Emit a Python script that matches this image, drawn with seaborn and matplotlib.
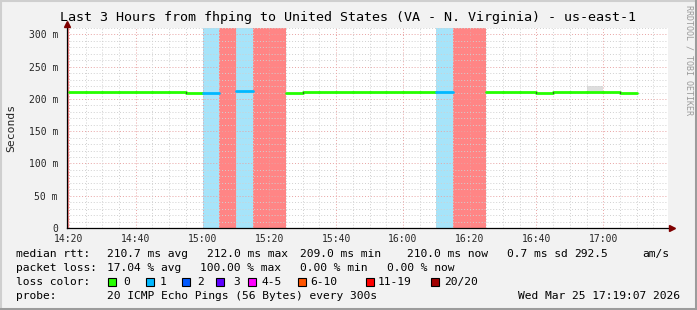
import numpy as np
import pandas as pd
import matplotlib
matplotlib.use("Agg")
import matplotlib.pyplot as plt
from matplotlib.lines import Line2D
from matplotlib.patches import Rectangle
import seaborn as sns

# ---------------- data ----------------
bin_starts = ["14:15", "14:20", "14:25", "14:30", "14:35", "14:40", "14:45", "14:50",
              "14:55", "15:00", "15:05", "15:10", "15:15", "15:20", "15:25", "15:30",
              "15:35", "15:40", "15:45", "15:50", "15:55", "16:00", "16:05", "16:10",
              "16:15", "16:20", "16:25", "16:30", "16:35", "16:40", "16:45", "16:50",
              "16:55", "17:00", "17:05"]
median_ms = [np.nan, 211, 211, 211, 211, 211, 211, 211,
             209, 209, np.nan, 212, np.nan, np.nan, 209, 211,
             211, 211, 211, 211, 211, 211, 211, 211,
             np.nan, np.nan, 211, 211, 211, 209, 211, 211,
             211, 211, 210]
smoke_max_ms = [np.nan, 211, 211, 211, 211, 211, 211, 211,
                209, 209, np.nan, 212, np.nan, np.nan, 209, 211,
                211, 211, 211, 211, 211, 211, 211, 211,
                np.nan, np.nan, 211, 211, 211, 209, 211, 211,
                220, 211, 210]
lost_pings = [20, 0, 0, 0, 0, 0, 0, 0,
              0, 1, 20, 1, 20, 20, 0, 0,
              0, 0, 0, 0, 0, 0, 0, 1,
              20, 20, 0, 0, 0, 0, 0, 0,
              0, 0, 0]

y_ticks = [0, 50, 100, 150, 200, 250, 300]
y_tick_labels = ["0", "50 m", "100 m", "150 m", "200 m", "250 m", "300 m"]
x_tick_labels = ["14:20", "14:40", "15:00", "15:20", "15:40", "16:00", "16:20", "16:40", "17:00"]

loss_names = ["0", "1", "2", "3", "4-5", "6-10", "11-19", "20/20"]
loss_colors = ["#26ff00", "#00b8ff", "#0059ff", "#5e00ff", "#ff00ff", "#ff5500", "#ff0000", "#a10000"]

title = "Last 3 Hours from fhping to United States (VA - N. Virginia) - us-east-1"
stats_rtt = ["median rtt:", "210.7 ms avg", "212.0 ms max", "209.0 ms min",
             "210.0 ms now", "0.7 ms sd", "292.5", "am/s"]
stats_loss = ["packet loss:", "17.04 % avg", "100.00 % max", "0.00 % min", "0.00 % now"]
probe_text = ["probe:", "20 ICMP Echo Pings (56 Bytes) every 300s", "Wed Mar 25 17:19:07 2026"]

# ---------------- helpers ----------------
def to_min(s):
    h, m = s.split(":")
    return int(h) * 60 + int(m) - 14 * 60

BIN = 5
starts = np.array([to_min(s) for s in bin_starts], dtype=float)

def loss_class(n):
    if n == 0: return 0
    if n == 1: return 1
    if n == 2: return 2
    if n == 3: return 3
    if n <= 5: return 4
    if n <= 10: return 5
    if n <= 19: return 6
    return 7

# ---------------- figure ----------------
W, H = 697, 310
sns.set_style("white")
plt.rcParams["font.family"] = ["DejaVu Sans Mono", "DejaVu Sans"]
fig = plt.figure(figsize=(W / 100, H / 100), dpi=100, facecolor="#f2f2f2")

L, R, T, B = 67, 668, 28, 228
ax = fig.add_axes([L / W, 1 - B / H, (R - L) / W, (B - T) / H])
ax.set_facecolor("white")
XMIN, XMAX = 19.4, 199.4
YMAX = 310
ax.set_xlim(XMIN, XMAX)
ax.set_ylim(0, YMAX)

# loss backgrounds
bg_colors = {1: "#a6e4fa", 7: "#ff8585"}
for s, n in zip(starts, lost_pings):
    c = loss_class(n)
    if c == 0:
        continue
    ax.axvspan(s, s + BIN, color=bg_colors.get(c, "#ff8585"), lw=0, zorder=0)

# smoke (spread of pings)
for s, m, sm in zip(starts, median_ms, smoke_max_ms):
    if not np.isnan(m) and sm > m:
        ax.bar(s, sm - m, bottom=m, width=BIN, align="edge", color="#dedede", lw=0, zorder=1)

# grid
for v in range(10, YMAX + 1, 10):
    if v % 50 == 0:
        ax.axhline(v, color="#e8a3a3", lw=0.7, ls=(0, (1, 2)), zorder=1.5)
    else:
        ax.axhline(v, color="#d0d0d0", lw=0.7, ls=(0, (1, 2)), zorder=1.5)
for t in np.arange(20, 200, 5):
    if t % 20 == 0:
        ax.axvline(t, color="#e8a3a3", lw=0.7, ls=(0, (1, 2)), zorder=1.5)
    else:
        ax.axvline(t, color="#d0d0d0", lw=0.7, ls=(0, (1, 2)), zorder=1.5)

# median line through seaborn
rows = []
for i, (s, m, n) in enumerate(zip(starts, median_ms, lost_pings)):
    if np.isnan(m):
        continue
    cls = loss_names[loss_class(n)]
    rows.append({"t": s, "ms": m, "bin": i, "loss": cls})
    rows.append({"t": s + BIN, "ms": m, "bin": i, "loss": cls})
df = pd.DataFrame(rows)
pal = dict(zip(loss_names, loss_colors))
sns.lineplot(data=df, x="t", y="ms", hue="loss", units="bin", estimator=None,
             palette=pal, lw=2.0, legend=False, sort=False, ax=ax, zorder=3)

# step joins
for i in range(1, len(starts)):
    a, b = median_ms[i - 1], median_ms[i]
    if not np.isnan(a) and not np.isnan(b) and a != b:
        ax.plot([starts[i], starts[i]], [a, b], color="#404040", lw=0.8, zorder=3.5)

# axes styling
for sp in ["top", "right"]:
    ax.spines[sp].set_visible(False)
ax.spines["left"].set_color("black")
ax.spines["bottom"].set_color("black")
ax.spines["left"].set_linewidth(0.9)
ax.spines["bottom"].set_linewidth(0.9)
ax.spines["left"].set_bounds(0, YMAX + 6)
ax.spines["bottom"].set_bounds(XMIN, XMAX + 1.2)
ax.spines["left"].set_zorder(4)
ax.spines["bottom"].set_zorder(4)
# arrows
ax.plot([XMAX + 1.3], [0], marker=">", color="#7f0000", ms=5, clip_on=False, zorder=5)
ax.plot([XMIN], [YMAX + 6], marker="^", color="#7f0000", ms=5, clip_on=False, zorder=5)

xt = [to_min(s) for s in x_tick_labels]
ax.set_xticks(xt)
ax.set_xticklabels(x_tick_labels)
ax.set_xticks(np.arange(20, 200, 5), minor=True)
ax.set_yticks(y_ticks)
ax.set_yticklabels(y_tick_labels)
ax.set_yticks(np.arange(10, YMAX, 10), minor=True)
ax.tick_params(axis="both", which="major", length=2.5, width=0.8, color="black",
               labelsize=7, direction="out")
ax.tick_params(axis="x", which="major", pad=1.5)
ax.tick_params(axis="y", which="major", pad=4)
ax.tick_params(axis="both", which="minor", length=1.2, width=0.6, color="#555555", direction="out")
ax.set_xlabel("")
ax.set_ylabel("")

# title and labels
fig.text(0.5, 1 - 18 / H, title, ha="center", va="center", fontsize=9.6, color="black")
fig.text(11 / W, 1 - 128 / H, "Seconds", rotation=90, ha="center", va="center", fontsize=8.2)
fig.text(689 / W, 1 - 5 / H, "RRDTOOL / TOBI OETIKER", rotation=270, ha="center", va="top",
         fontsize=6, color="#9a9a9a")

def ftext(x, y, s, ha="left"):
    fig.text(x / W, 1 - y / H, s, ha=ha, va="center", fontsize=8.1, color="black")

for x, s in zip([16, 107, 207, 300, 407, 507, 574, 642], stats_rtt):
    ftext(x, 254, s)
for x, s in zip([16, 107, 200, 300, 387], stats_loss):
    ftext(x, 268, s)
ftext(16, 282, "loss color:")
sw_x = [108, 146, 182, 216, 248, 298, 366, 431]
lab_x = [123, 160, 197, 233, 262, 310, 378, 444]
for sx, lx, name, col in zip(sw_x, lab_x, loss_names, loss_colors):
    fig.patches.append(Rectangle((sx / W, 1 - 286 / H), 8 / W, 8 / H, transform=fig.transFigure,
                                 facecolor=col, edgecolor="black", lw=0.8))
    ftext(lx, 282, name)
ftext(16, 296, probe_text[0])
ftext(107, 296, probe_text[1])
ftext(680, 296, probe_text[2], ha="right")

# frame border
fig.add_artist(Line2D([0, 1], [1 - 0.5 / H, 1 - 0.5 / H], transform=fig.transFigure, color="#cfcfcf", lw=1.5))
fig.add_artist(Line2D([0.5 / W, 0.5 / W], [0, 1], transform=fig.transFigure, color="#cfcfcf", lw=1.5))
fig.add_artist(Line2D([0, 1], [1.2 / H, 1.2 / H], transform=fig.transFigure, color="#9c9c9c", lw=2.2))
fig.add_artist(Line2D([1 - 1.2 / W, 1 - 1.2 / W], [0, 1], transform=fig.transFigure, color="#9c9c9c", lw=2.2))

fig.savefig("out.png", dpi=100, facecolor=fig.get_facecolor())
